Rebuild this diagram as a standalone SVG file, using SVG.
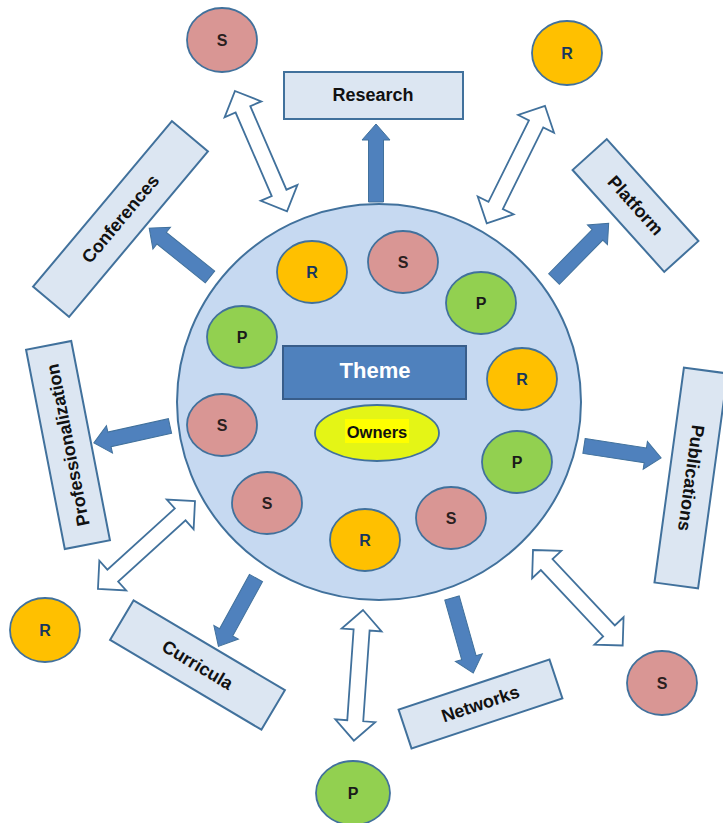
<svg xmlns="http://www.w3.org/2000/svg" width="723" height="823" viewBox="0 0 723 823">
<style>
.box{fill:#dce6f2;stroke:#41719c;stroke-width:2}
.lbl{font-family:"Liberation Sans",Arial,sans-serif;font-weight:bold;font-size:18px;fill:#111;text-anchor:middle;dominant-baseline:central}
.let{font-family:"Liberation Sans",Arial,sans-serif;font-weight:bold;font-size:16px;text-anchor:middle;dominant-baseline:central}
.cR{fill:#ffc000;stroke:#41719c;stroke-width:1.8}
.cS{fill:#d99694;stroke:#41719c;stroke-width:1.8}
.cP{fill:#92d050;stroke:#41719c;stroke-width:1.8}
.tR{fill:#17375e}
.tS{fill:#2a1f1f}
.tP{fill:#1a1a1a}
.sarrow{fill:#4f81bd;stroke:#41719c;stroke-width:1}
.darrow{fill:#ffffff;stroke:#41719c;stroke-width:1.8;stroke-linejoin:miter}
</style>
<defs>
<polygon id="sa" points="0,-7.5 62,-7.5 62,-14 78,0 62,14 62,7.5 0,7.5"/>
<polygon id="da" points="0,0 20,-20 20,-8 111,-8 111,-20 131,0 111,20 111,8 20,8 20,20"/>
</defs>
<rect width="723" height="823" fill="#ffffff"/>

<g id="hub">
<ellipse cx="379" cy="402" rx="202" ry="198" fill="#c6d9f1" stroke="#41719c" stroke-width="2"/>
</g>
<g id="theme">
<rect x="283" y="346" width="183" height="53" fill="#4f81bd" stroke="#385d8a" stroke-width="2"/>
<text x="375" y="370" font-family="Liberation Sans,Arial,sans-serif" font-weight="bold" font-size="22" fill="#ffffff" text-anchor="middle" dominant-baseline="central">Theme</text>
</g>
<g id="owners">
<ellipse cx="377" cy="433" rx="62" ry="28" fill="#e4f516" stroke="#41719c" stroke-width="1.8"/>
<rect x="345" y="419" width="64" height="24" fill="#ffff00"/>
<text x="377" y="432" font-family="Liberation Sans,Arial,sans-serif" font-weight="bold" font-size="16.5" fill="#111" text-anchor="middle" dominant-baseline="central">Owners</text>
</g>

<g id="inner-r1"><ellipse class="cR" cx="312" cy="272" rx="35" ry="31"/><text class="let tR" x="312" y="272">R</text></g>
<g id="inner-s1"><ellipse class="cS" cx="403" cy="262" rx="35" ry="31"/><text class="let tS" x="403" y="262">S</text></g>
<g id="inner-p1"><ellipse class="cP" cx="481" cy="303" rx="35" ry="31"/><text class="let tP" x="481" y="303">P</text></g>
<g id="inner-p2"><ellipse class="cP" cx="242" cy="337" rx="35" ry="31"/><text class="let tP" x="242" y="337">P</text></g>
<g id="inner-r2"><ellipse class="cR" cx="522" cy="379" rx="35" ry="31"/><text class="let tR" x="522" y="379">R</text></g>
<g id="inner-s2"><ellipse class="cS" cx="222" cy="425" rx="35" ry="31"/><text class="let tS" x="222" y="425">S</text></g>
<g id="inner-p3"><ellipse class="cP" cx="517" cy="462" rx="35" ry="31"/><text class="let tP" x="517" y="462">P</text></g>
<g id="inner-s3"><ellipse class="cS" cx="267" cy="503" rx="35" ry="31"/><text class="let tS" x="267" y="503">S</text></g>
<g id="inner-r3"><ellipse class="cR" cx="365" cy="540" rx="35" ry="31"/><text class="let tR" x="365" y="540">R</text></g>
<g id="inner-s4"><ellipse class="cS" cx="451" cy="518" rx="35" ry="31"/><text class="let tS" x="451" y="518">S</text></g>

<g id="research"><rect class="box" x="284" y="72" width="179" height="47"/><text class="lbl" x="373" y="95">Research</text></g>
<g id="conferences" transform="translate(120.5,219) rotate(-50)"><rect class="box" x="-108" y="-23.5" width="216" height="47"/><text class="lbl" x="0" y="0">Conferences</text></g>
<g id="platform" transform="translate(635.5,205.5) rotate(48)"><rect class="box" x="-68.5" y="-23" width="137" height="46"/><text class="lbl" x="0" y="0">Platform</text></g>
<g id="professionalization" transform="translate(68,445) rotate(-101)"><rect class="box" x="-101.5" y="-23" width="203" height="46"/><text class="lbl" x="0" y="0">Professionalization</text></g>
<g id="publications" transform="translate(691,478) rotate(97.8)"><rect class="box" x="-108.5" y="-22" width="217" height="44"/><text class="lbl" x="0" y="0">Publications</text></g>
<g id="curricula" transform="translate(197.5,665) rotate(30.7)"><rect class="box" x="-88" y="-23" width="176" height="46"/><text class="lbl" x="0" y="0">Curricula</text></g>
<g id="networks" transform="translate(480.5,704) rotate(-18.4)"><rect class="box" x="-79.5" y="-20.5" width="159" height="41"/><text class="lbl" x="0" y="0">Networks</text></g>

<g id="outer-s1"><ellipse class="cS" cx="222" cy="40" rx="35" ry="32"/><text class="let tS" x="222" y="40">S</text></g>
<g id="outer-r1"><ellipse class="cR" cx="567" cy="53" rx="35" ry="32"/><text class="let tR" x="567" y="53">R</text></g>
<g id="outer-r2"><ellipse class="cR" cx="45" cy="630" rx="35" ry="32"/><text class="let tR" x="45" y="630">R</text></g>
<g id="outer-s2"><ellipse class="cS" cx="662" cy="683" rx="35" ry="32"/><text class="let tS" x="662" y="683">S</text></g>
<g id="outer-p1"><ellipse class="cP" cx="353" cy="793" rx="37" ry="32"/><text class="let tP" x="353" y="793">P</text></g>

<g id="connectors">
<use href="#sa" class="sarrow" transform="translate(376,202) rotate(-90)"/>
<use href="#sa" class="sarrow" transform="translate(210,277) rotate(-141.2)"/>
<use href="#sa" class="sarrow" transform="translate(554,279) rotate(-45.5)"/>
<use href="#sa" class="sarrow" transform="translate(170,426) rotate(167.5)"/>
<use href="#sa" class="sarrow" transform="translate(584,446) rotate(8.7)"/>
<use href="#sa" class="sarrow" transform="translate(256,578) rotate(118.8)"/>
<use href="#sa" class="sarrow" transform="translate(452,598) rotate(74.2)"/>
<use href="#da" class="darrow" transform="translate(235,91) rotate(66.6)"/>
<use href="#da" class="darrow" transform="translate(545,106) rotate(116.4)"/>
<use href="#da" class="darrow" transform="translate(195,501) rotate(137.8)"/>
<use href="#da" class="darrow" transform="translate(533,550) rotate(46.8)"/>
<use href="#da" class="darrow" transform="translate(363,610) rotate(94)"/>
</g>
</svg>
